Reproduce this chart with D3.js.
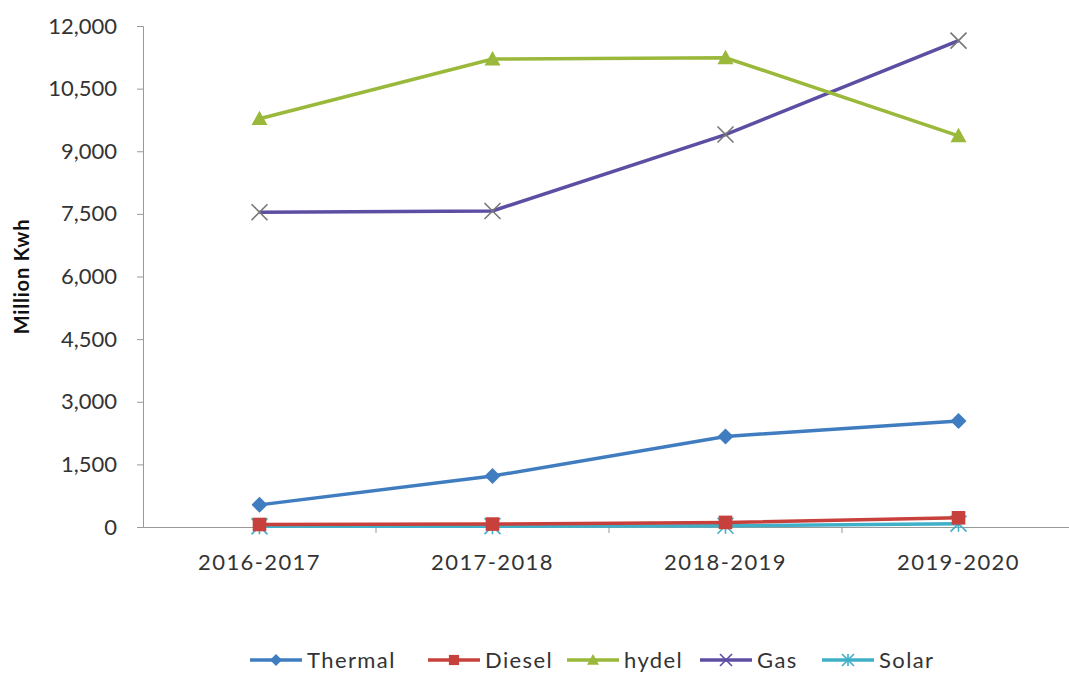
<!DOCTYPE html>
<html>
<head>
<meta charset="utf-8">
<script src="https://cdn.jsdelivr.net/npm/d3@7"></script>
<style>
  body { margin: 0; background: #fff; }
  svg text { font-family: Lato, "Open Sans", sans-serif; fill: #333; }
</style>
</head>
<body>
<div id="chart"></div>
<script>
const years = ['2016-2017', '2017-2018', '2018-2019', '2019-2020'];
const yTicks = [0, 1500, 3000, 4500, 6000, 7500, 9000, 10500, 12000];

const thermal = [530, 1220, 2170, 2540];
const diesel = [60, 70, 110, 220];
const hydel = [9780, 11210, 11240, 9370];
const gas = [7540, 7570, 9400, 11650];
const solar = [15, 20, 30, 80];

const seriesNames = ['Thermal', 'Diesel', 'hydel', 'Gas', 'Solar'];
const seriesValues = [thermal, diesel, hydel, gas, solar];
const seriesColors = ['#3f7cc0', '#c8403c', '#9ab83a', '#5e4ea3', '#3fb0c8'];
const seriesMarkers = ['diamond', 'square', 'triangle', 'x', 'star'];

const width = 1069, height = 675;
const margin = {top: 26, right: -6, bottom: 148, left: 143};

const svg = d3.select('#chart')
  .append('svg')
    .attr('width', width)
    .attr('height', height);

const x = d3.scaleBand()
  .domain(years)
  .range([margin.left, width - margin.right]);

const y = d3.scaleLinear()
  .domain([0, 12000])
  .range([height - margin.bottom, margin.top]);

// y axis
svg.append('g')
  .attr('transform', `translate(${margin.left},0)`)
  .call(d3.axisLeft(y).tickValues(yTicks).tickSize(6).tickPadding(20)
    .tickFormat(d3.format(',')))
  .call(g => g.selectAll('line, path').attr('stroke', '#999'))
  .call(g => g.selectAll('text').attr('font-size', 22).style('fill', '#333'));

// x axis
const xAxis = svg.append('g')
  .attr('transform', `translate(0,${y(0)})`)
  .call(d3.axisBottom(x).tickSize(0).tickPadding(27))
  .call(g => g.selectAll('path').attr('stroke', '#999'))
  .call(g => g.selectAll('text').attr('font-size', 22)
    .style('letter-spacing', '1.4px').style('fill', '#333'));

xAxis.selectAll('.sep')
  .data(years.slice(1))
  .join('line')
    .attr('class', 'sep')
    .attr('x1', d => x(d)).attr('x2', d => x(d))
    .attr('y1', 0).attr('y2', 6)
    .attr('stroke', '#999');

svg.append('text')
  .attr('transform', `translate(29,${(y(0) + y(12000)) / 2}) rotate(-90)`)
  .attr('text-anchor', 'middle')
  .attr('font-size', 20)
  .attr('font-weight', 'bold')
  .style('letter-spacing', '0.8px')
  .style('fill', '#111')
  .text('Million Kwh');

function drawMarker(g, type, color, size) {
  const s = size;
  if (type === 'diamond')
    g.append('path').attr('d', `M0,${-s}L${s},0L0,${s}L${-s},0Z`).attr('fill', color);
  else if (type === 'square')
    g.append('rect').attr('x', -s * 0.85).attr('y', -s * 0.85)
      .attr('width', s * 1.7).attr('height', s * 1.7).attr('fill', color);
  else if (type === 'triangle')
    g.append('path').attr('d', `M0,${-s}L${s},${s * 0.8}L${-s},${s * 0.8}Z`).attr('fill', color);
  else if (type === 'x')
    g.append('path').attr('d', `M${-s},${-s}L${s},${s}M${-s},${s}L${s},${-s}`)
      .attr('stroke', color).attr('stroke-width', 1.6).attr('fill', 'none');
  else if (type === 'star')
    g.append('path').attr('d', `M${-s},${-s}L${s},${s}M${-s},${s}L${s},${-s}M0,${-s}L0,${s}`)
      .attr('stroke', color).attr('stroke-width', 1.6).attr('fill', 'none');
}

const line = d3.line()
  .x((d, i) => x(years[i]) + x.bandwidth() / 2)
  .y(d => y(d));

// draw in reverse order so Thermal sits on top
seriesNames.map((name, i) => i).reverse().forEach(i => {
  const color = seriesColors[i];
  const markerColor = seriesMarkers[i] === 'x' ? '#777' : color;
  svg.append('path')
    .datum(seriesValues[i])
    .attr('d', line)
    .attr('fill', 'none')
    .attr('stroke', color)
    .attr('stroke-width', 3.5);
  seriesValues[i].forEach((v, j) => {
    const g = svg.append('g')
      .attr('transform', `translate(${x(years[j]) + x.bandwidth() / 2},${y(v)})`);
    drawMarker(g, seriesMarkers[i], markerColor, 8);
  });
});

// legend
const legendX = [250, 428, 567, 700, 822];
const legend = svg.append('g').attr('transform', 'translate(0,660)');
seriesNames.forEach((name, i) => {
  const g = legend.append('g').attr('transform', `translate(${legendX[i]},0)`);
  g.append('line').attr('x1', 0).attr('x2', 52).attr('y1', 0).attr('y2', 0)
    .attr('stroke', seriesColors[i]).attr('stroke-width', 3.5);
  const m = g.append('g').attr('transform', 'translate(26,0)');
  drawMarker(m, seriesMarkers[i], seriesColors[i], 6);
  g.append('text').attr('x', 57).attr('y', 8).attr('font-size', 22)
    .style('letter-spacing', '1.4px').text(name);
});
</script>
</body>
</html>
